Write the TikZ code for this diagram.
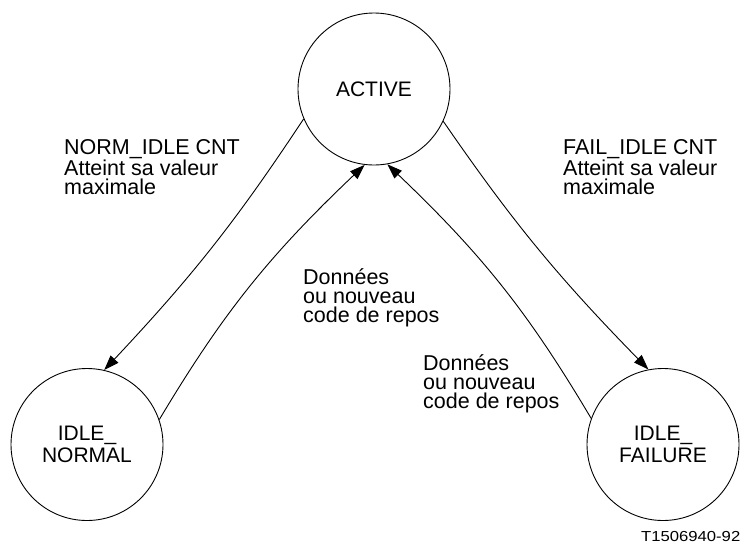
\documentclass[tikz,border=0pt]{standalone}
\usepackage{fontspec}
\setmainfont{Liberation Sans}
\usetikzlibrary{arrows.meta,bending}

\begin{document}
\begin{tikzpicture}[x=1pt,y=-1pt,
  state/.style={circle,draw,line width=0.9pt,minimum size=152pt,inner sep=0pt,
    align=center,font=\fontsize{21}{22}\selectfont},
  trans/.style={line width=0.9pt,-{Triangle[length=15pt,width=10.5pt]}},
  lbl/.style={anchor=base west,inner sep=0pt,align=left,
    font=\fontsize{21.5}{19}\selectfont}]
\useasboundingbox (0,0) rectangle (742,544);

% states
\node[state] (active)  at (374,89)    {ACTIVE};
\node[state] (normal)  at (87,444.5)  {IDLE\_\\NORMAL};
\node[state] (failure) at (663,444.5) {IDLE\_\\FAILURE};

% transitions (y axis points down, so bend sides are mirrored)
\draw[trans] (active.203.6) to[bend left=5]  (normal.77.5);
\draw[trans] (normal.19)    to[bend left=8]  (active.263);
\draw[trans] (active.335.8) to[bend right=5] (failure.101.8);
\draw[trans] (failure.160)  to[bend right=8] (active.280);

% transition labels (anchored at the baseline of the last line)
\node[lbl] (lnorm) at (64,194)  {NORM\_IDLE CNT\\Atteint sa valeur\\maximale};
\node[lbl] (lfail) at (563,194) {FAIL\_IDLE CNT\\Atteint sa valeur\\maximale};
\node[lbl] (lback1) at (303,322) {Données\\ou nouveau\\code de repos};
\node[lbl] (lback2) at (423,408) {Données\\ou nouveau\\code de repos};

% figure number
\node[anchor=base east,inner sep=0pt,font=\fontsize{14.5}{14.5}\selectfont]
  (fignum) at (740.5,541) {\scalebox{1.15}[1]{T1506940-92}};
\end{tikzpicture}
\end{document}
